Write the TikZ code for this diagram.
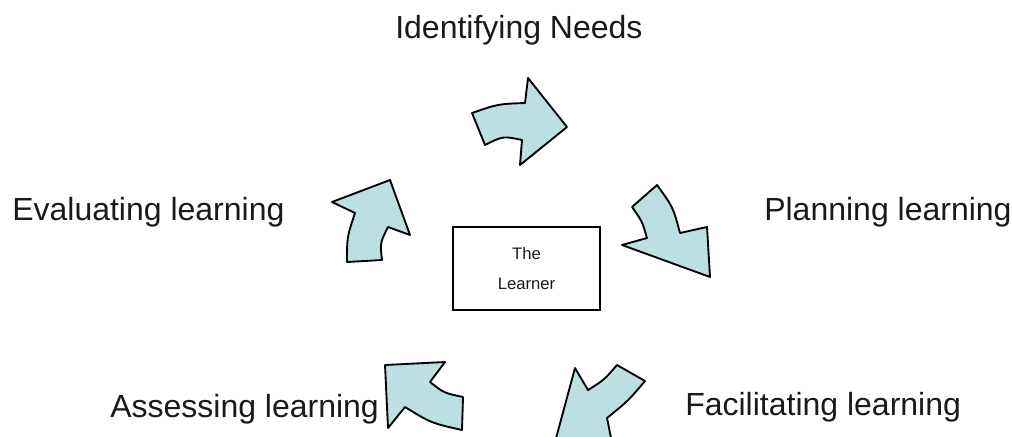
\documentclass[tikz,border=0pt]{standalone}
\usepackage{fontspec}
\setmainfont{Liberation Sans}
\usepackage{xcolor}
\definecolor{arrowfill}{HTML}{BCDFE1}
\definecolor{stagetext}{HTML}{1A1A1A}

\begin{document}
\begin{tikzpicture}[
    x=0.75pt, y=-0.75pt,
    every node/.style={font=\fontsize{24}{29}\selectfont, text=stagetext, inner sep=0pt},
    stage/.style={anchor=base west},
    bendarrow/.style={fill=arrowfill, draw=black, line width=1.4pt, line join=round},
    learnerbox/.style={draw=black, line width=1.2pt, minimum width=110pt,
                       minimum height=62pt, align=center,
                       font=\fontsize{12.5}{22}\selectfont},
]

% ── Page ────────────────────────────────────────────────────────
\useasboundingbox (0,0) rectangle (1012,436);
\clip (0,0) rectangle (1012,436);

% ── Stage labels ────────────────────────────────────────────────
\node[stage] (needs) at (395,38) {Identifying Needs};
\node[stage] (planning) at (764,220) {Planning learning};
\node[stage] (facilitating) at (685,415) {Facilitating learning};
\node[stage] (assessing) at (110,417) {Assessing learning};
\node[stage] (evaluating) at (12,220) {Evaluating learning};

% ── Centre ──────────────────────────────────────────────────────
\node[learnerbox] (learner) at (526.5,268.5) {The\\Learner};

% ── Cycle arrows ────────────────────────────────────────────────
% top
\draw[bendarrow] (472,113) .. controls (498,104) .. (525,103) -- (528,78)
  -- (567,127) -- (520,165) -- (522,140) .. controls (503,136) .. (485,145) -- cycle;
% right
\draw[bendarrow] (632,207) -- (657,185) .. controls (673,207) .. (680,233)
  -- (707,227) -- (710,277) -- (622,245) -- (647,238) .. controls (642,221) .. (632,207) -- cycle;
% bottom right
\draw[bendarrow] (575,368) -- (588,390) .. controls (604,380) .. (617,365)
  -- (645,381) .. controls (628,401) .. (607,418) -- (613,448) -- (555,442) -- cycle;
% bottom left
\draw[bendarrow] (385,365) -- (445,362) -- (430,382) .. controls (444,393) .. (463,397)
  -- (462,430) .. controls (431,423) .. (405,407) -- (388,428) -- cycle;
% left
\draw[bendarrow] (332,202) -- (390,180) -- (410,235) -- (388,227)
  .. controls (380,243) .. (382,260) -- (347,262) .. controls (347,237) .. (355,213) -- cycle;

\end{tikzpicture}
\end{document}
